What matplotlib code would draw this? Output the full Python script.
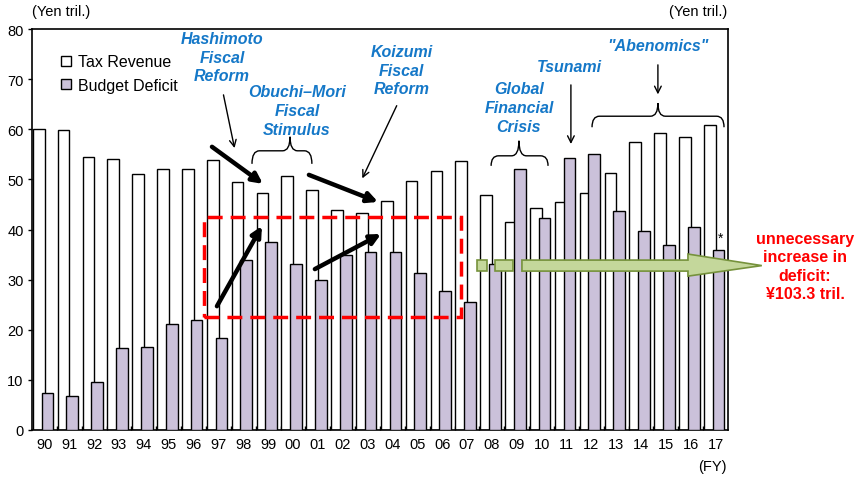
import matplotlib
matplotlib.use("Agg")
import matplotlib.pyplot as plt
from matplotlib.patches import Rectangle, Polygon, PathPatch
from matplotlib.path import Path
from matplotlib.lines import Line2D
import numpy as np

plt.rcParams['font.family'] = ['Liberation Sans', 'DejaVu Sans']

years = ["90", "91", "92", "93", "94", "95", "96", "97", "98", "99", "00", "01", "02", "03",
         "04", "05", "06", "07", "08", "09", "10", "11", "12", "13", "14", "15", "16", "17"]
tax_revenue = [60.1, 59.8, 54.4, 54.1, 51.0, 52.1, 52.1, 53.9, 49.4, 47.2, 50.7, 47.9, 43.8, 43.3,
               45.6, 49.7, 51.7, 53.6, 46.9, 41.5, 44.3, 45.5, 47.2, 51.3, 57.4, 59.3, 58.5, 60.8]
budget_deficit = [7.4, 6.8, 9.5, 16.4, 16.6, 21.2, 21.9, 18.4, 34.0, 37.6, 33.2, 29.9, 35.0, 35.5,
                  35.5, 31.3, 27.7, 25.5, 33.2, 52.1, 42.3, 54.2, 55.1, 43.6, 39.8, 37.0, 40.4, 35.9]

BLUE = "#1578c8"
PURPLE = "#cbc1da"

fig = plt.figure(figsize=(8.57, 4.81), dpi=100)
ax = fig.add_axes([32/857, 50/481, 696/857, 401/481])

x = np.arange(len(years))
w = 0.47
ax.bar(x - 0.23, tax_revenue, width=w, color="white", edgecolor="black", linewidth=1.0, zorder=2)
ax.bar(x + 0.12, budget_deficit, width=w, color=PURPLE, edgecolor="black", linewidth=1.0, zorder=3)

ax.set_xlim(-0.5, len(years) - 0.5)
ax.set_ylim(0, 80)
ax.set_yticks(range(0, 81, 10))
ax.set_xticks(x)
ax.set_xticklabels(years)
ax.set_xticks(np.arange(0.5, len(years) - 1, 1.0), minor=True)
ax.tick_params(axis='x', which='major', length=0, labelsize=10.5, pad=5)
ax.tick_params(axis='x', which='minor', direction='in', length=3, width=1)
ax.tick_params(axis='y', direction='out', length=3, width=1, labelsize=10.5, pad=3)
for s in ax.spines.values():
    s.set_linewidth(1.2)

# unit labels
fig.text(32/857, 1 - 12/481, "(Yen tril.)", ha='left', va='center', fontsize=10.5)
fig.text(727/857, 1 - 12/481, "(Yen tril.)", ha='right', va='center', fontsize=10.5)
fig.text(727/857, 1 - 467/481, "(FY)", ha='right', va='center', fontsize=10.5)

# legend
handles = [Line2D([], [], marker='s', ls='', mfc='white', mec='black', ms=7, mew=1),
           Line2D([], [], marker='s', ls='', mfc=PURPLE, mec='black', ms=7, mew=1)]
ax.legend(handles, ["Tax Revenue", "Budget Deficit"], loc='upper left',
          bbox_to_anchor=(0.040, 0.937), frameon=False, fontsize=11.5, handlelength=0.75,
          handletextpad=0.4, labelspacing=0.55, borderpad=0, borderaxespad=0)

# blue annotation texts
tkw = dict(ha='center', va='center', color=BLUE, fontsize=11.5, fontweight='bold',
           fontstyle='italic', linespacing=1.32, zorder=6)
ax.text(7.14, 74.4, "Hashimoto\nFiscal\nReform", **tkw)
ax.text(10.16, 63.8, "Obuchi\u2013Mori\nFiscal\nStimulus", **tkw)
ax.text(14.38, 71.8, "Koizumi\nFiscal\nReform", **tkw)
ax.text(19.09, 64.4, "Global\nFinancial\nCrisis", **tkw)
ax.text(21.14, 72.6, "Tsunami", **tkw)
ax.text(24.68, 76.8, "\"Abenomics\"", **tkw)

# thin arrows
thin = dict(arrowstyle='->', color='black', lw=1.0, mutation_scale=12)
for (x0, y0, x1, y1) in [(7.18, 67.4, 7.67, 55.7), (14.22, 65.2, 12.74, 49.7),
                         (21.18, 69.4, 21.18, 56.5), (24.68, 73.4, 24.68, 66.4)]:
    ax.annotate("", xy=(x1, y1), xytext=(x0, y0), arrowprops=thin, zorder=6)

# thick arrows
thick = dict(arrowstyle='-|>', color='black', lw=3.2, mutation_scale=15, shrinkA=0, shrinkB=0)
for (x0, y0, x1, y1) in [(6.74, 56.5, 8.79, 49.1), (10.64, 50.9, 13.42, 45.5),
                         (6.94, 24.7, 8.75, 40.7), (10.88, 32.1, 13.54, 39.1)]:
    ax.annotate("", xy=(x1, y1), xytext=(x0, y0), arrowprops=thick, zorder=7)


def brace(x0, x1, xm, ytop, yend, ytip, r=0.3):
    verts = [(x0, yend), (x0, ytop), (x0 + r, ytop),
             (xm - r, ytop), (xm, ytop), (xm, ytip),
             (xm, ytop), (xm + r, ytop),
             (x1 - r, ytop), (x1, ytop), (x1, yend)]
    codes = [Path.MOVETO, Path.CURVE3, Path.CURVE3,
             Path.LINETO, Path.CURVE3, Path.CURVE3,
             Path.CURVE3, Path.CURVE3,
             Path.LINETO, Path.CURVE3, Path.CURVE3]
    ax.add_patch(PathPatch(Path(verts, codes), fill=False, lw=1.0, color='black', zorder=6,
                           clip_on=False))


brace(8.35, 10.76, 9.88, 55.7, 53.1, 58.5)
brace(17.97, 20.26, 19.09, 54.7, 52.7, 57.7)
brace(22.03, 27.34, 24.68, 62.6, 60.4, 65.2)

# red dashed box
ax.add_patch(Rectangle((6.42, 22.5), 16.76 - 6.42, 42.4 - 22.5, fill=False, edgecolor='#ff0000',
                       lw=2.5, linestyle=(0, (4.3, 2.3)), zorder=5))

# green arrow
GF, GE = "#c4d79b", "#76923c"
ax.add_patch(Rectangle((17.40, 31.7), 0.40, 2.2, facecolor=GF, edgecolor=GE, lw=1.2, zorder=5))
ax.add_patch(Rectangle((18.12, 31.7), 0.73, 2.2, facecolor=GF, edgecolor=GE, lw=1.2, zorder=5))
ax.add_patch(Polygon([(19.21, 31.7), (25.89, 31.7), (25.89, 30.7), (28.86, 32.8),
                      (25.89, 35.1), (25.89, 33.9), (19.21, 33.9)], closed=True,
                     facecolor=GF, edgecolor=GE, lw=1.2, zorder=5, clip_on=False))

ax.text(27.18, 38.3, "*", ha='center', va='center', fontsize=10, zorder=6)

ax.text(30.6, 32.7, "unnecessary\nincrease in\ndeficit:\n\u00a5103.3 tril.", ha='center',
        va='center', color='#ff0000', fontsize=11.5, fontweight='bold', linespacing=1.27,
        clip_on=False, zorder=6)

fig.savefig("out.png", dpi=100)
